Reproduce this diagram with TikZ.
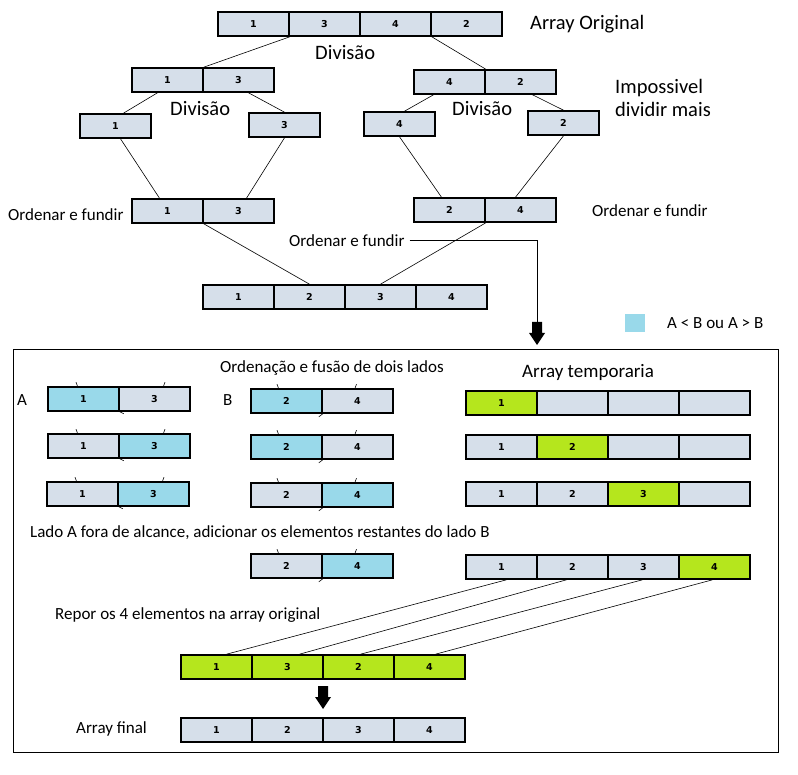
\documentclass[tikz,border=0pt]{standalone}
\usepackage{fontspec}
\setmainfont{Carlito}
\newfontfamily\numfont{DejaVu Sans}
\usetikzlibrary{positioning}

\definecolor{cinza}{RGB}{214,223,234}
\definecolor{azul}{RGB}{153,217,234}
\definecolor{verde}{RGB}{181,230,29}

\tikzset{
	cel/.style = {draw, line width=1.6pt, minimum width=71pt, minimum height=24pt, inner sep=0pt, font=\numfont\bfseries\fontsize{9.5}{9.5}\selectfont},
	celc/.style = {cel, fill=cinza},
	cela/.style = {cel, fill=azul},
	celv/.style = {cel, fill=verde},
	txt/.style = {inner sep=0pt, anchor=base west, font=\fontsize{17}{21}\selectfont},
	txtg/.style = {txt, font=\fontsize{20.5}{23.5}\selectfont},
	lig/.style = {line width=0.6pt},
	seta/.pic = {\fill (-5,0) -- (5,0) -- (5,11) -- (8,11) -- (0,23) -- (-8,11) -- (-5,11) -- cycle;}
}

% nome, x esquerda, y centro, lista valor/tipo
\newcommand\linha[4]{%
	\foreach \v/\s [count=\k] in {#4}
		\node[cel\s] (#1\k) at ({#2+35.5+71*(\k-1)},#3) {\v};
}

\begin{document}
\begin{tikzpicture}[x=1pt, y=-1pt]

\useasboundingbox (0,0) rectangle (798,775);

%Divisao

	\linha{o}{218}{24}{1/c,3/c,4/c,2/c}
	\linha{e}{132}{80}{1/c,3/c}
	\linha{d}{414}{82}{4/c,2/c}
	\linha{ea}{80}{126}{1/c}
	\linha{eb}{249}{125}{3/c}
	\linha{da}{364}{124}{4/c}
	\linha{db}{528}{123}{2/c}

	\draw [lig] (o1.south east) -- (e1.north east);
	\draw [lig] (o3.south east) -- (d1.north east);
	\draw [lig] ([xshift=-10pt]e1.south) -- ([xshift=8pt]ea1.north);
	\draw [lig] ([xshift=10pt]e2.south) -- (eb1.north);
	\draw [lig] ([xshift=-16pt]d1.south) -- ([xshift=5pt]da1.north);
	\draw [lig] ([xshift=12pt]d2.south) -- (db1.north);

	\node [txtg] (t1) at (530,30) {Array Original};
	\node [txtg] (t2) at (315,60) {Divisão};
	\node [txtg] (t3) at (170,116) {Divisão};
	\node [txtg] (t4) at (452,116) {Divisão};
	\node [txtg, align=left] (t5) at (615,117) {Impossivel\\dividir mais};

%Ordenar e fundir

	\linha{fe}{132}{211}{1/c,3/c}
	\linha{fd}{414}{210}{2/c,4/c}
	\linha{r}{203}{297}{1/c,2/c,3/c,4/c}

	\draw [lig] ([xshift=5pt]ea1.south) -- ([xshift=-8pt]fe1.north);
	\draw [lig] (eb1.south) -- ([xshift=8pt]fe2.north);
	\draw [lig] (da1.south) -- ([xshift=-8pt]fd1.north);
	\draw [lig] (db1.south) -- ([xshift=-5pt]fd2.north);
	\draw [lig] (fe1.south east) -- (r2.north);
	\draw [lig] (fd1.south east) -- (r3.north);

	\node [txt] (t6) at (8,220.5) {Ordenar e fundir};
	\node [txt] (t7) at (592,216.5) {Ordenar e fundir};
	\node [txt] (t8) at (289,246.5) {Ordenar e fundir};

	\coordinate (s1) at (537,322);
	\draw [lig] ([xshift=5pt]t8.east) -| (s1);
	\pic at (s1) {seta};

	\node [fill=azul, minimum width=20pt, minimum height=18pt, inner sep=0pt] (leg) at (635,323) {};
	\node [txt] (t9) at (667,329) {A < B ou A > B};

%Ordenacao e fusao

	\draw [line width=1pt] (13,350) rectangle (778,752);

	\node [txt] (t10) at (220,373) {Ordenação e fusão de dois lados};
	\node [txt] (t11) at (17,405.5) {A};
	\node [txt] (t12) at (223,405.5) {B};
	\node [txt, font=\fontsize{19}{22}\selectfont] (t13) at (522,378) {Array temporaria};

	\linha{A1}{48}{399}{1/a,3/c}
	\linha{A2}{48}{446}{1/c,3/a}
	\linha{A3}{47}{494}{1/c,3/a}
	\linha{B1}{251}{401}{2/a,4/c}
	\linha{B2}{251}{447}{2/a,4/c}
	\linha{B3}{251}{495}{2/c,4/a}
	\linha{B4}{251}{566}{2/c,4/a}

	\foreach \n in {A1,A2,A3}{
		\draw [lig] ([xshift=-6pt]\n1.north) -- ++(-1.5,-4);
		\draw [lig] ([xshift=9pt]\n2.north) -- ++(1.5,-4);
		\draw [lig] (\n1.south east) -- ++(4,2);
	}
	\foreach \n in {B1,B2,B3,B4}{
		\draw [lig] ([xshift=-8pt]\n1.north) -- ++(-1.5,-4);
		\draw [lig] ([xshift=-2.5pt]\n2.north) -- ++(1.5,-4);
		\draw [lig] (\n1.south east) -- ++(-4,3);
	}

	\linha{T1}{466}{403}{1/v,{}/c,{}/c,{}/c}
	\linha{T2}{466}{447}{1/c,2/v,{}/c,{}/c}
	\linha{T3}{466}{494}{1/c,2/c,3/v,{}/c}
	\linha{T4}{466}{567}{1/c,2/c,3/c,4/v}

	\node [txt] (t14) at (30,537.5) {Lado A fora de alcance, adicionar os elementos restantes do lado B};
	\node [txt] (t15) at (55,619) {Repor os 4 elementos na array original};

	\linha{G}{181}{667}{1/v,3/v,2/v,4/v}
	\foreach \k/\a/\b in {1/5/10,2/-6/12,3/-1/2,4/-2/6}
		\draw [lig] ([xshift=\a pt]T4\k.south) -- ([xshift=\b pt]G\k.north);

	\coordinate (s2) at (323,686);
	\pic at (s2) {seta};

	\node [txt] (t16) at (76,733) {Array final};
	\linha{F}{181}{730}{1/c,2/c,3/c,4/c}

\end{tikzpicture}
\end{document}
